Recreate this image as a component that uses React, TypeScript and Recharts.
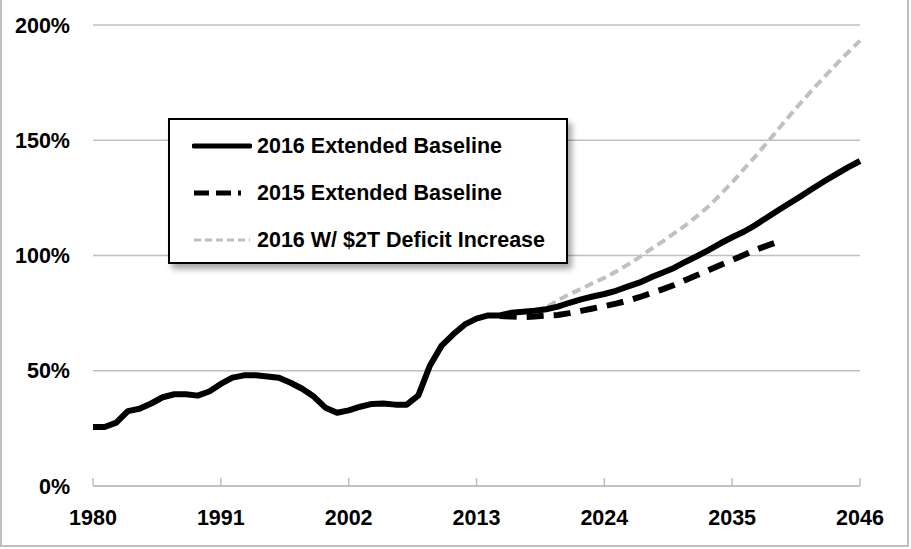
import React from 'react';
import { LineChart, Line, XAxis, YAxis, CartesianGrid } from 'recharts';

const years = [
  1980, 1981, 1982, 1983, 1984, 1985, 1986, 1987, 1988, 1989,
  1990, 1991, 1992, 1993, 1994, 1995, 1996, 1997, 1998, 1999,
  2000, 2001, 2002, 2003, 2004, 2005, 2006, 2007, 2008, 2009,
  2010, 2011, 2012, 2013, 2014, 2015, 2016, 2017, 2018, 2019,
  2020, 2021, 2022, 2023, 2024, 2025, 2026, 2027, 2028, 2029,
  2030, 2031, 2032, 2033, 2034, 2035, 2036, 2037, 2038, 2039,
  2040, 2041, 2042, 2043, 2044, 2045, 2046,
];

// debt as % of GDP
const baseline2016 = [
  25.6, 25.6, 27.5, 32.5, 33.5, 35.8, 38.5, 39.8, 39.8, 39.2,
  41.0, 44.3, 47.0, 48.0, 48.0, 47.5, 47.0, 44.8, 42.2, 38.8,
  34.0, 31.8, 32.8, 34.4, 35.6, 35.8, 35.3, 35.3, 39.3, 52.3,
  60.9, 65.8, 70.1, 72.6, 74.0, 74.0, 75.2, 75.6, 76.0, 76.7,
  77.8, 79.5, 81.0, 82.2, 83.3, 84.7, 86.5, 88.2, 90.5, 92.5,
  94.6, 97.3, 99.8, 102.4, 105.3, 107.9, 110.3, 113.2, 116.5, 119.7,
  122.9, 126.0, 129.3, 132.4, 135.4, 138.3, 141.0,
];

const baseline2015Years = [
  2015, 2016, 2017, 2018, 2019, 2020, 2021, 2022, 2023, 2024, 2025, 2026, 2027,
  2028, 2029, 2030, 2031, 2032, 2033, 2034, 2035, 2036, 2037, 2038, 2039,
];
const baseline2015 = [
  73.8, 73.5, 73.3, 73.5, 73.9, 74.2, 75.0, 76.0, 77.0, 78.0, 79.1, 80.4, 81.9,
  83.6, 85.3, 87.2, 89.4, 91.5, 93.7, 95.9, 98.0, 100.2, 102.4, 104.3, 106.0,
];

const deficitYears = [
  2018, 2019, 2020, 2021, 2022, 2023, 2024, 2025, 2026, 2027, 2028, 2029, 2030,
  2031, 2032, 2033, 2034, 2035, 2036, 2037, 2038, 2039, 2040, 2041, 2042, 2043,
  2044, 2045, 2046,
];
const deficit2T = [
  76.0, 77.5, 80.5, 83.2, 85.5, 88.0, 90.3, 93.0, 96.0, 99.2, 102.7, 106.0, 109.6,
  113.2, 117.2, 121.5, 126.5, 131.7, 137.5, 143.0, 149.0, 155.0, 161.0, 166.8, 172.4, 177.8,
  183.2, 188.3, 193.2,
];

const xTicks = [1980, 1991, 2002, 2013, 2024, 2035, 2046];
const yTicks = [0, 50, 100, 150, 200];

const seriesNames = ['2016 Extended Baseline', '2015 Extended Baseline', '2016 W/ $2T Deficit Increase'];

const data = years.map((year, i) => {
  const j = baseline2015Years.indexOf(year);
  const k = deficitYears.indexOf(year);
  return {
    year,
    b2016: baseline2016[i],
    b2015: j >= 0 ? baseline2015[j] : null,
    d2t: k >= 0 ? deficit2T[k] : null,
  };
});

const FONT = '"Liberation Sans", Arial, sans-serif';
const GRID = '#bfbfbf';

const XTick = ({ x, y, payload }: any) => (
  <g>
    <line x1={x} x2={x} y1={y - 8} y2={y} stroke={GRID} strokeWidth={1.5} />
    <text x={x} y={y + 39} textAnchor="middle" fontFamily={FONT} fontWeight="bold" fontSize={21.5} fill="#000">
      {payload.value}
    </text>
  </g>
);

const samples = [
  { stroke: '#000', width: 5, dash: undefined as string | undefined },
  { stroke: '#000', width: 5, dash: '15 7 15 7 3 100' },
  { stroke: '#bfbfbf', width: 3, dash: '7 4' },
];

const LegendBox = () => (
  <div
    style={{
      position: 'absolute', left: 168, top: 118, width: 400, height: 146,
      boxSizing: 'border-box', border: '2px solid #000', background: '#fff',
      boxShadow: '4px 5px 6px rgba(0,0,0,0.35)', fontFamily: FONT,
    }}
  >
    {seriesNames.map((name, i) => (
      <div key={name} style={{ position: 'absolute', left: 22, top: 11 + i * 47, height: 30, display: 'flex', alignItems: 'center' }}>
        <svg width={60} height={10} style={{ marginRight: 5 }}>
          <line x1={2} x2={58} y1={5} y2={5} stroke={samples[i].stroke} strokeWidth={samples[i].width}
            strokeDasharray={samples[i].dash} strokeLinecap={i === 0 ? 'round' : 'butt'} />
        </svg>
        <span style={{ fontSize: 21.5, fontWeight: 'bold', color: '#000', whiteSpace: 'nowrap' }}>{name}</span>
      </div>
    ))}
  </div>
);

export default function App() {
  return (
    <div style={{ position: 'absolute', left: 0, top: 0, width: 911, height: 549, background: '#fff', overflow: 'hidden' }}>
      <div style={{ position: 'absolute', left: 0, top: -10, width: 909, height: 557, boxSizing: 'border-box', border: '2px solid #c0c0c0' }} />
      <LineChart width={911} height={549} data={data} margin={{ top: 25, right: 51, left: 0, bottom: 0 }}>
        <CartesianGrid vertical={false} stroke={GRID} strokeWidth={1.5} />
        <XAxis
          dataKey="year"
          type="number"
          domain={[1980, 2046]}
          ticks={xTicks}
          height={63}
          tickLine={false}
          tickSize={0}
          tickMargin={0}
          axisLine={{ stroke: GRID, strokeWidth: 1.5 }}
          tick={<XTick />}
          interval={0}
        />
        <YAxis
          domain={[0, 200]}
          ticks={yTicks}
          width={93}
          axisLine={false}
          tickLine={false}
          tickSize={0}
          tickMargin={23}
          tickFormatter={(v: number) => `${v}%`}
          tick={{ fontFamily: FONT, fontWeight: 'bold', fontSize: 21.5, fill: '#000' }}
        />
        <Line dataKey="d2t" stroke="#c0c0c0" strokeWidth={4} strokeDasharray="9 5" dot={false} isAnimationActive={false} connectNulls={false} />
        <Line dataKey="b2015" stroke="#000" strokeWidth={6} strokeDasharray="17 10" dot={false} isAnimationActive={false} connectNulls={false} />
        <Line dataKey="b2016" stroke="#000" strokeWidth={6} strokeLinejoin="round" dot={false} isAnimationActive={false} />
      </LineChart>
      <LegendBox />
    </div>
  );
}
